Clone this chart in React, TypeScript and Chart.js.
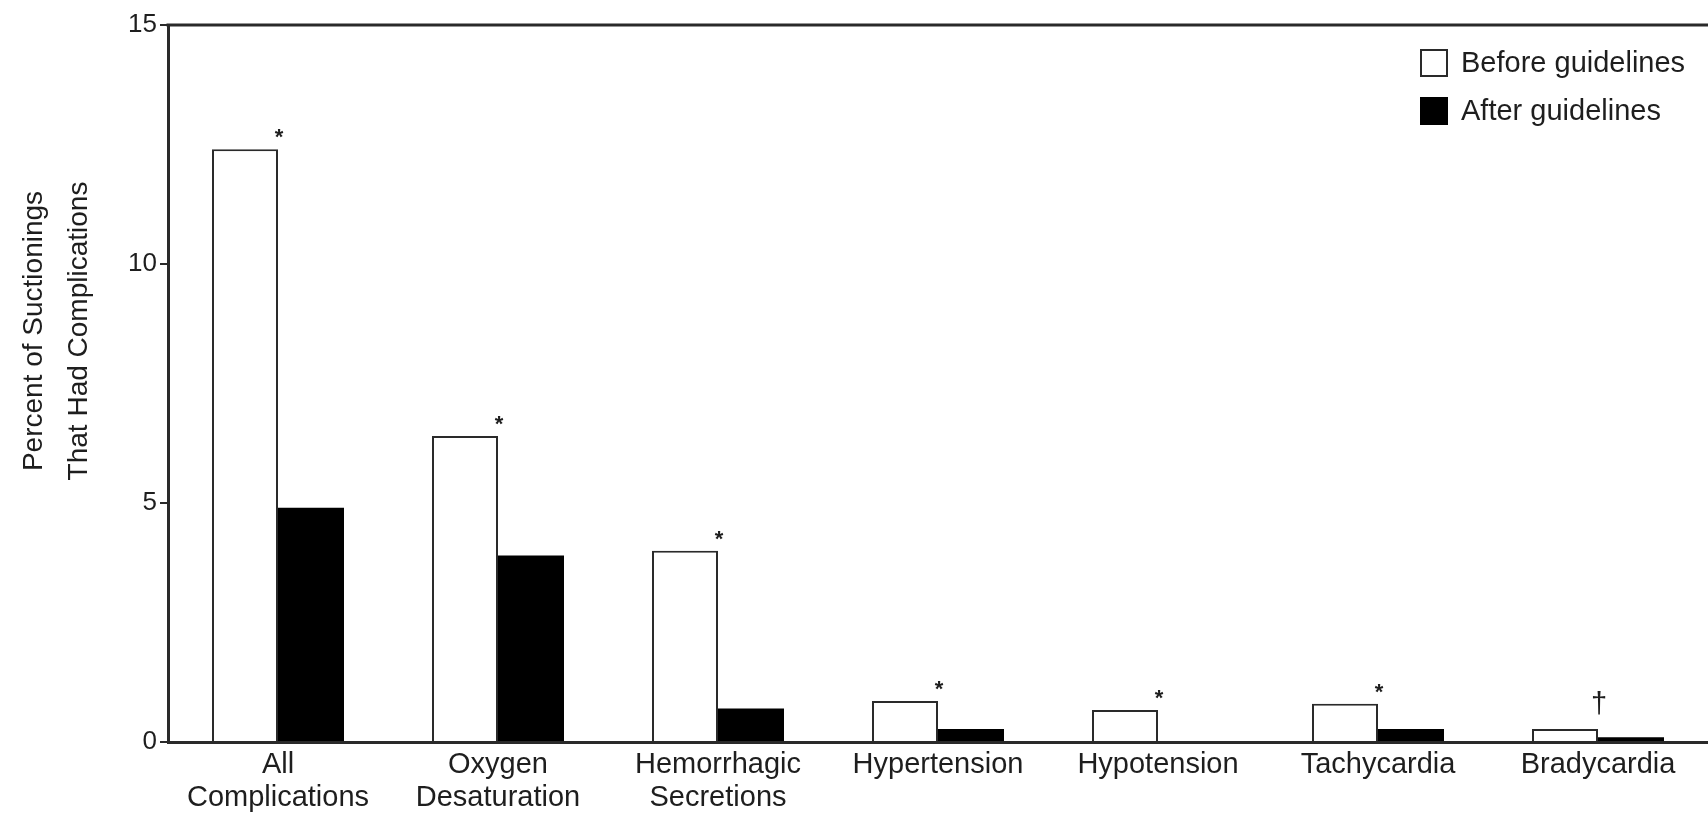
import React, { useEffect, useRef } from "react";
import { Chart, registerables } from "chart.js";

Chart.register(...registerables);

const categories: (string | string[])[] = [
  ["All", "Complications"],
  ["Oxygen", "Desaturation"],
  ["Hemorrhagic", "Secretions"],
  "Hypertension",
  "Hypotension",
  "Tachycardia",
  "Bradycardia",
];
const beforeValues = [12.4, 6.4, 4.0, 0.86, 0.67, 0.8, 0.27];
const afterValues = [4.9, 3.9, 0.7, 0.27, 0, 0.27, 0.1];
const significanceMarks = ["*", "*", "*", "*", "*", "*", "†"];
const yTickValues = [0, 5, 10, 15];
const seriesLabels = ["Before guidelines", "After guidelines"];
const yTitleLines = ["Percent of Suctionings", "That Had Complications"];

const FONT = "'Liberation Sans', Arial, Helvetica, sans-serif";
const INK = "#2a2a2a";
const TEXT = "#1e1e1e";

const decorPlugin = {
  id: "decor",
  afterDraw(chart: any) {
    const { ctx, chartArea } = chart;
    ctx.save();
    // top frame line
    ctx.strokeStyle = INK;
    ctx.lineWidth = 3;
    ctx.beginPath();
    ctx.moveTo(chartArea.left - 1.5, chartArea.top);
    ctx.lineTo(chart.width, chartArea.top);
    ctx.stroke();

    // significance marks above "before" bars
    const meta = chart.getDatasetMeta(0);
    meta.data.forEach((bar: any, i: number) => {
      const mark = significanceMarks[i];
      if (!mark) return;
      const xr = bar.x + bar.width / 2;
      ctx.fillStyle = TEXT;
      ctx.textAlign = "center";
      ctx.textBaseline = "alphabetic";
      if (mark === "*") {
        ctx.font = `bold 22px ${FONT}`;
        ctx.fillText(mark, xr + 1, bar.y - 5);
      } else {
        ctx.font = `29px ${FONT}`;
        ctx.fillText(mark, xr + 1, bar.y - 16);
      }
    });

    // y-axis title (two lines, rotated)
    ctx.font = `28px ${FONT}`;
    ctx.fillStyle = TEXT;
    ctx.textAlign = "center";
    ctx.textBaseline = "middle";
    const cy = chartArea.top + 306;
    yTitleLines.forEach((line, i) => {
      ctx.save();
      ctx.translate(34 + i * 45, cy);
      ctx.rotate(-Math.PI / 2);
      ctx.fillText(line, 0, 0);
      ctx.restore();
    });

    // legend
    const boxX = chartArea.right - 288;
    chart.data.datasets.forEach((ds: any, i: number) => {
      const by = chartArea.top + 24 + i * 48;
      ctx.fillStyle = ds.backgroundColor;
      ctx.fillRect(boxX, by, 28, 28);
      ctx.strokeStyle = ds.borderColor;
      ctx.lineWidth = 2;
      ctx.strokeRect(boxX + 1, by + 1, 26, 26);
      ctx.fillStyle = TEXT;
      ctx.font = `29px ${FONT}`;
      ctx.textAlign = "left";
      ctx.textBaseline = "middle";
      ctx.fillText(ds.label, boxX + 41, by + 15);
    });
    ctx.restore();
  },
};

export default function App() {
  const canvasRef = useRef<HTMLCanvasElement | null>(null);

  useEffect(() => {
    if (!canvasRef.current) return;
    const chart = new Chart(canvasRef.current, {
      type: "bar",
      data: {
        labels: categories,
        datasets: [
          {
            label: seriesLabels[0],
            data: beforeValues,
            backgroundColor: "#ffffff",
            borderColor: INK,
            borderWidth: 2,
            categoryPercentage: 0.6,
            barPercentage: 1.0,
          },
          {
            label: seriesLabels[1],
            data: afterValues,
            backgroundColor: "#000000",
            borderColor: "#000000",
            borderWidth: 0,
            categoryPercentage: 0.6,
            barPercentage: 1.0,
          },
        ],
      },
      options: {
        animation: false,
        responsive: false,
        maintainAspectRatio: false,
        layout: { padding: { top: 25, right: 0, left: 0, bottom: 0 } },
        plugins: {
          legend: { display: false },
          tooltip: { enabled: false },
          title: { display: false },
        },
        scales: {
          x: {
            grid: { display: false, drawTicks: false },
            border: { display: true, width: 3, color: INK },
            ticks: {
              color: TEXT,
              font: { family: FONT, size: 29, lineHeight: 1.14 },
              padding: 6,
              maxRotation: 0,
              minRotation: 0,
              autoSkip: false,
            },
            afterFit: (s: any) => {
              s.height = 75;
            },
          },
          y: {
            min: 0,
            max: 15,
            afterBuildTicks: (s: any) => {
              s.ticks = yTickValues.map((v) => ({ value: v }));
            },
            ticks: {
              color: TEXT,
              font: { family: FONT, size: 26 },
              padding: 3,
            },
            grid: {
              display: true,
              drawOnChartArea: false,
              drawTicks: true,
              tickLength: 8,
              lineWidth: 2,
              color: INK,
            },
            border: { display: true, width: 3, color: INK },
            afterFit: (s: any) => {
              s.width = 168;
            },
          },
        },
      },
      plugins: [decorPlugin],
    });
    return () => chart.destroy();
  }, []);

  return (
    <div style={{ position: "fixed", left: 0, top: 0, width: 1708, height: 817, background: "#fff" }}>
      <canvas ref={canvasRef} width={1708} height={817} style={{ width: 1708, height: 817, display: "block" }} />
    </div>
  );
}
